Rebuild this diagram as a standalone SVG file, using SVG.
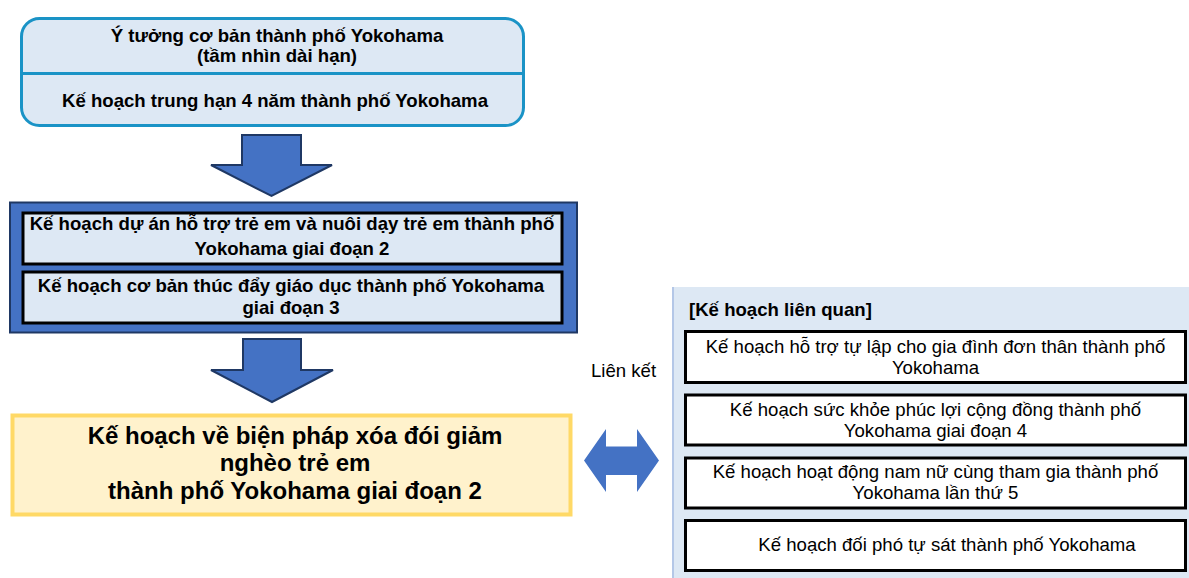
<svg xmlns="http://www.w3.org/2000/svg" width="1189" height="578" viewBox="0 0 1189 578">
<style>
.b{font-family:"Liberation Sans",Arial,sans-serif;font-weight:bold;font-size:18.6px;fill:#000;text-anchor:middle}
.r{font-family:"Liberation Sans",Arial,sans-serif;font-size:18.6px;fill:#000;text-anchor:middle}
.big{font-size:24px}
.inner{fill:#dde8f4;stroke:#000;stroke-width:3}
.rel{fill:#fff;stroke:#000;stroke-width:3}
.arrow{fill:#4472c4;stroke:#1f3864;stroke-width:2;stroke-linejoin:miter}
</style>
<rect width="1189" height="578" fill="#fff"/>
<g id="top-box">
<rect x="21.5" y="18.5" width="502" height="107" rx="18" fill="#dde8f4" stroke="#1a93c6" stroke-width="3"/>
<line x1="21.5" y1="73.5" x2="523.5" y2="73.5" stroke="#1a93c6" stroke-width="3"/>
<text class="b" x="277" y="42">Ý tưởng cơ bản thành phố Yokohama</text>
<text class="b" x="277" y="62">(tầm nhìn dài hạn)</text>
<text class="b" x="275" y="107">Kế hoạch trung hạn 4 năm thành phố Yokohama</text>
</g>
<g id="blue-box">
<rect x="10" y="202.5" width="567" height="130" fill="#4472c4" stroke="#1f3864" stroke-width="2"/>
<rect class="inner" x="23" y="213" width="539" height="51"/>
<rect class="inner" x="23" y="272" width="539" height="51"/>
<text class="b" x="292" y="230">Kế hoạch dự án hỗ trợ trẻ em và nuôi dạy trẻ em thành phố</text>
<text class="b" x="292" y="255">Yokohama giai đoạn 2</text>
<text class="b" x="291" y="292">Kế hoạch cơ bản thúc đẩy giáo dục thành phố Yokohama</text>
<text class="b" x="291" y="314">giai đoạn 3</text>
</g>
<g id="main-plan">
<rect x="12.5" y="415.5" width="558" height="99" fill="#fff2cc" stroke="#ffd966" stroke-width="4"/>
<text class="b big" x="295" y="444">Kế hoạch về biện pháp xóa đói giảm</text>
<text class="b big" x="295" y="471">nghèo trẻ em</text>
<text class="b big" x="295" y="499">thành phố Yokohama giai đoạn 2</text>
</g>
<g id="related-panel">
<rect x="673" y="287" width="520" height="295" fill="#dde8f4"/>
<line x1="673" y1="287" x2="673" y2="578" stroke="#b4c7e7" stroke-width="2"/>
<text class="b" x="689" y="316" style="text-anchor:start">[Kế hoạch liên quan]</text>
</g>
<g id="rel-1">
<rect class="rel" x="685.5" y="331.5" width="500" height="51"/>
<text class="r" x="935.5" y="353">Kế hoạch hỗ trợ tự lập cho gia đình đơn thân thành phố</text>
<text class="r" x="935.5" y="374">Yokohama</text>
</g>
<g id="rel-2">
<rect class="rel" x="685.5" y="395" width="500" height="50"/>
<text class="r" x="935.5" y="416">Kế hoạch sức khỏe phúc lợi cộng đồng thành phố</text>
<text class="r" x="935.5" y="437">Yokohama giai đoạn 4</text>
</g>
<g id="rel-3">
<rect class="rel" x="685.5" y="458" width="500" height="50"/>
<text class="r" x="935.5" y="478">Kế hoạch hoạt động nam nữ cùng tham gia thành phố</text>
<text class="r" x="935.5" y="499">Yokohama lần thứ 5</text>
</g>
<g id="rel-4">
<rect class="rel" x="685.5" y="520.5" width="500" height="50"/>
<text class="r" x="947" y="551">Kế hoạch đối phó tự sát thành phố Yokohama</text>
</g>
<g id="connectors">
<path class="arrow" d="M242,135 H301 V165 H332 L271.5,196 L211,165 H242 Z"/>
<path class="arrow" d="M243,339 H301 V370 H333 L272,402 L211,370 H243 Z"/>
<path d="M584,460.5 L606,429 V446.5 H637 V429 L659,460.5 L637,492 V475 H606 V492 Z" fill="#4472c4"/>
<text class="r" x="623.5" y="377">Liên kết</text>
</g>
</svg>
